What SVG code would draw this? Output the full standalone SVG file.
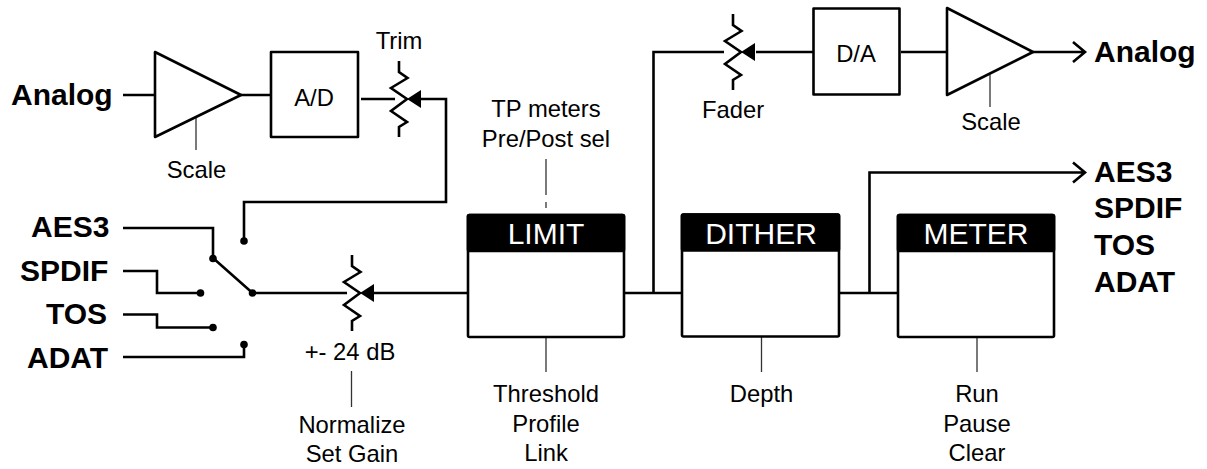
<svg xmlns="http://www.w3.org/2000/svg" width="1207" height="469" viewBox="0 0 1207 469">
<style>
.w{fill:none;stroke:#000;stroke-width:2.6}
.t{fill:none;stroke:#333;stroke-width:1.3}
.b{fill:#fff;stroke:#000;stroke-width:2.6;stroke-linejoin:round}
.h{fill:#000;stroke:#000;stroke-width:2.6;stroke-linejoin:round}
text{font-family:"Liberation Sans",Arial,sans-serif;fill:#000}
.l{font-size:30px;font-weight:bold}
.n{font-size:23.8px;text-anchor:middle}
.k{font-size:30px;text-anchor:middle;fill:#fff}
</style>
<defs>
<g id="pot"><path class="w" d="M0-38V-27L8.500-21-8-11 8 0-8 12 8 23 0 28V38"/><path d="M8 0L22-9V9Z"/></g>
<circle id="dot" r="3.800"/>
</defs>
<g id="connectors">
<path class="w" d="M123 95H155M241 95H271M361 99H395M421 99H446V202H244V241"/>
<path class="w" d="M123 228H213V258M123 271H157V293H200M123 314.500H157V327.500H213M123 357H244V344"/>
<path class="w" d="M213 258L252.500 293H347M373 293H468M624 293H682M839 293H898"/>
<path class="w" d="M653.500 293V52H724M756 52H813M901 52H947M1033 52H1085M1073 42L1085 52 1073 62"/>
<path class="w" d="M869.500 293V172.500H1085M1073 162.500L1085 172.500 1073 182.500"/>
<path class="t" d="M196 117V150M351.500 371V407M990 75V107M546 337V372M761.500 337V372M977 337V372M546 159V195M546 202V208"/>
</g>
<use href="#dot" x="244" y="241"/><use href="#dot" x="213" y="258.500"/><use href="#dot" x="200.500" y="293"/><use href="#dot" x="252.500" y="293"/><use href="#dot" x="213" y="327.500"/><use href="#dot" x="244" y="344.500"/>
<g id="amp-in"><path class="b" d="M155 52V137L241 95Z"/><text class="n" x="196.500" y="178">Scale</text></g>
<g id="ad"><rect class="b" x="271" y="52" width="87" height="85"/><text class="n" x="314" y="106">A/D</text></g>
<g id="trim"><use href="#pot" x="399" y="99"/><text class="n" x="399" y="49">Trim</text></g>
<g id="gain"><use href="#pot" x="352" y="293"/><text class="n" x="350" y="360">+- 24 dB</text><text class="n" x="352" y="433">Normalize</text><text class="n" x="352" y="462">Set Gain</text></g>
<g id="fader"><use href="#pot" x="733" y="52"/><text class="n" x="733" y="118">Fader</text></g>
<g id="da"><rect class="b" x="813.500" y="8.500" width="86" height="86"/><text class="n" x="856" y="62">D/A</text></g>
<g id="amp-out"><path class="b" d="M947 8V95L1033 52Z"/><text class="n" x="991" y="130">Scale</text></g>
<g id="limit"><rect class="b" x="468" y="215" width="156" height="122" rx="1.500"/><rect class="h" x="468" y="215" width="156" height="36" rx="1.500"/><text class="k" x="546" y="244">LIMIT</text>
<text class="n" x="546" y="117">TP meters</text><text class="n" x="546" y="146.500">Pre/Post sel</text><text class="n" x="546" y="402">Threshold</text><text class="n" x="546" y="432">Profile</text><text class="n" x="546" y="461">Link</text></g>
<g id="dither"><rect class="b" x="682" y="214.500" width="157" height="122" rx="1.500"/><rect class="h" x="682" y="214.500" width="157" height="36" rx="1.500"/><text class="k" x="761" y="244">DITHER</text><text class="n" x="761.500" y="402">Depth</text></g>
<g id="meter"><rect class="b" x="898" y="215" width="156" height="122" rx="1.500"/><rect class="h" x="898" y="215" width="156" height="36" rx="1.500"/><text class="k" x="976" y="244">METER</text><text class="n" x="977" y="402">Run</text><text class="n" x="977" y="432">Pause</text><text class="n" x="977" y="461">Clear</text></g>
<g id="labels-in"><text class="l" x="11" y="105">Analog</text><text class="l" x="31" y="237">AES3</text><text class="l" x="20" y="281">SPDIF</text><text class="l" x="46" y="324">TOS</text><text class="l" x="27" y="368">ADAT</text></g>
<g id="labels-out"><text class="l" x="1094" y="62">Analog</text><text class="l" x="1094" y="182">AES3</text><text class="l" x="1094" y="218">SPDIF</text><text class="l" x="1094" y="255">TOS</text><text class="l" x="1094" y="292">ADAT</text></g>
</svg>
